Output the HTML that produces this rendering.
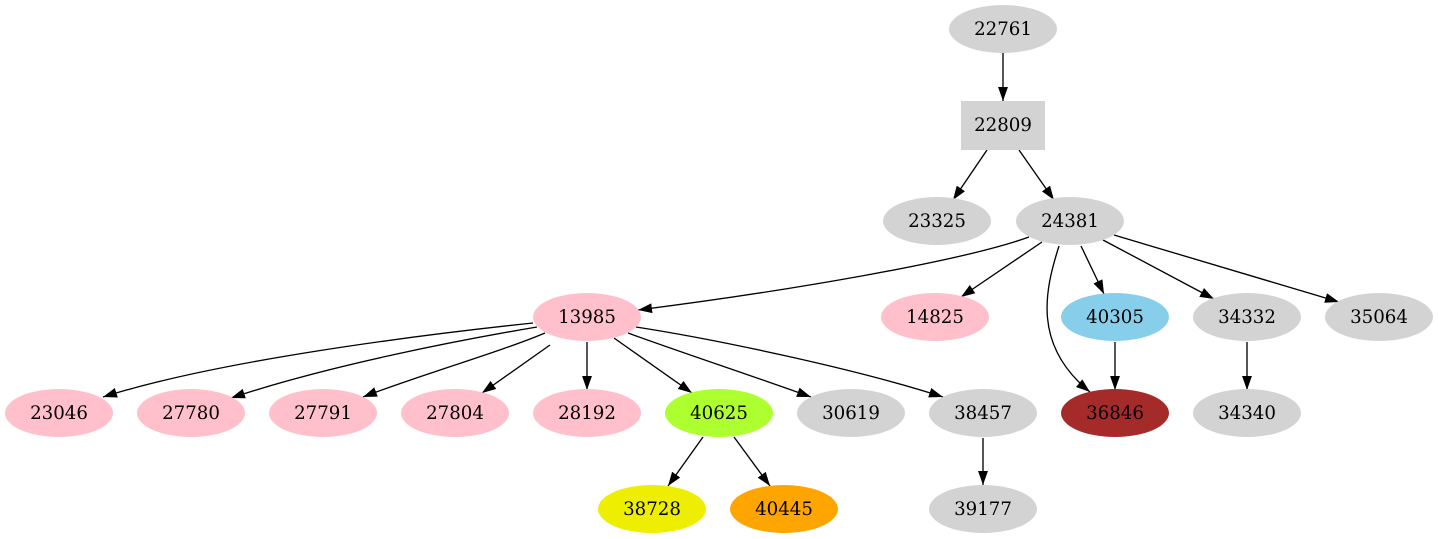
<!DOCTYPE html>
<html><head><meta charset="utf-8"><style>
html,body{margin:0;padding:0;background:#fff;}
svg{display:block;}
text{font-family:"DejaVu Serif","Liberation Serif",serif;font-size:18.2px;text-anchor:middle;fill:#000;}
</style></head><body>
<svg width="1438" height="539" viewBox="0 0 1438 539" xmlns="http://www.w3.org/2000/svg">
<defs>
<marker id="a" markerUnits="userSpaceOnUse" markerWidth="14" markerHeight="10" viewBox="0 0 13.3 9.4" refX="13.3" refY="4.7" orient="auto">
<path d="M0,0 L13.3,4.7 L0,9.4 z" fill="#000"/>
</marker>
</defs>
<g fill="none" stroke="#000" stroke-width="1.33" marker-end="url(#a)">
<path d="M1003,53 L1003,101"/>
<path d="M987,150 L953,200"/>
<path d="M1019,150 L1054,200"/>
<path d="M1029,237 C960,262 780,292 638,310"/>
<path d="M1042,242 L961,297"/>
<path d="M1059,246 C1045,290 1032,345 1090,392"/>
<path d="M1081,246 L1104,294"/>
<path d="M1103,240 L1214,299"/>
<path d="M1114,235 L1339,302"/>
<path d="M1115,342 L1115,390"/>
<path d="M1247,342 L1247,390"/>
<path d="M533,323 C420,335 220,360 103,397"/>
<path d="M537,327 C460,340 330,365 231,398"/>
<path d="M545,333 C500,352 420,375 363,397"/>
<path d="M550,345 L482,393"/>
<path d="M587,342 L587,390"/>
<path d="M614,338 L692,393"/>
<path d="M628,333 C680,352 750,375 811,397"/>
<path d="M636,327 C720,340 860,370 943,397"/>
<path d="M703,437 L668,486"/>
<path d="M734,437 L770,486"/>
<path d="M983,438 L983,485"/>
</g>
<g>
<ellipse cx="1003" cy="29" rx="54" ry="24" fill="#d3d3d3"/><text x="1003" y="35">22761</text>
<rect x="961" y="101" width="84" height="49" fill="#d3d3d3"/><text x="1003" y="131">22809</text>
<ellipse cx="937" cy="221" rx="54" ry="24" fill="#d3d3d3"/><text x="937" y="227">23325</text>
<ellipse cx="1070" cy="221" rx="54" ry="24" fill="#d3d3d3"/><text x="1070" y="227">24381</text>
<ellipse cx="587" cy="317" rx="54" ry="24" fill="#ffc0cb"/><text x="587" y="323">13985</text>
<ellipse cx="935" cy="317" rx="54" ry="24" fill="#ffc0cb"/><text x="935" y="323">14825</text>
<ellipse cx="1115" cy="317" rx="54" ry="24" fill="#87ceeb"/><text x="1115" y="323">40305</text>
<ellipse cx="1247" cy="317" rx="54" ry="24" fill="#d3d3d3"/><text x="1247" y="323">34332</text>
<ellipse cx="1379" cy="317" rx="54" ry="24" fill="#d3d3d3"/><text x="1379" y="323">35064</text>
<ellipse cx="59" cy="413" rx="54" ry="24" fill="#ffc0cb"/><text x="59" y="419">23046</text>
<ellipse cx="191" cy="413" rx="54" ry="24" fill="#ffc0cb"/><text x="191" y="419">27780</text>
<ellipse cx="323" cy="413" rx="54" ry="24" fill="#ffc0cb"/><text x="323" y="419">27791</text>
<ellipse cx="455" cy="413" rx="54" ry="24" fill="#ffc0cb"/><text x="455" y="419">27804</text>
<ellipse cx="587" cy="413" rx="54" ry="24" fill="#ffc0cb"/><text x="587" y="419">28192</text>
<ellipse cx="719" cy="413" rx="54" ry="24" fill="#adff2f"/><text x="719" y="419">40625</text>
<ellipse cx="851" cy="413" rx="54" ry="24" fill="#d3d3d3"/><text x="851" y="419">30619</text>
<ellipse cx="983" cy="413" rx="54" ry="24" fill="#d3d3d3"/><text x="983" y="419">38457</text>
<ellipse cx="1115" cy="413" rx="54" ry="24" fill="#a52a2a"/><text x="1115" y="419">36846</text>
<ellipse cx="1247" cy="413" rx="54" ry="24" fill="#d3d3d3"/><text x="1247" y="419">34340</text>
<ellipse cx="652" cy="509" rx="54" ry="24" fill="#eeee00"/><text x="652" y="515">38728</text>
<ellipse cx="784" cy="509" rx="54" ry="24" fill="#ffa500"/><text x="784" y="515">40445</text>
<ellipse cx="983" cy="509" rx="54" ry="24" fill="#d3d3d3"/><text x="983" y="515">39177</text>
</g>
</svg>
</body></html>
